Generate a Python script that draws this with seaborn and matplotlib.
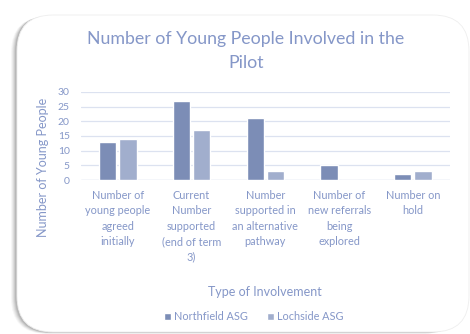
import matplotlib
matplotlib.use("Agg")
import matplotlib.pyplot as plt
from matplotlib.patches import FancyBboxPatch
import seaborn as sns
import pandas as pd

categories = [
    "Number of\nyoung people\nagreed\ninitially",
    "Current\nNumber\nsupported\n(end of term\n3)",
    "Number\nsupported in\nan alternative\npathway",
    "Number of\nnew referrals\nbeing\nexplored",
    "Number on\nhold",
]
northfield = [13, 27, 21, 5, 2]
lochside = [14, 17, 3, 0, 3]
series_names = ["Northfield ASG", "Lochside ASG"]
y_ticks = [0, 5, 10, 15, 20, 25, 30]

df = pd.DataFrame({
    "Type of Involvement": categories * 2,
    "Count": northfield + lochside,
    "School group": [series_names[0]] * len(categories) + [series_names[1]] * len(categories),
})

sns.set_theme(style="white")
plt.rcParams["font.family"] = ["Lato", "DejaVu Sans"]

text_col = "#8597C8"
grid_col = "#DCE2F0"
palette = ["#7389BF", "#9AABD4"]

fig = plt.figure(figsize=(4.7, 3.34), dpi=100)
fig.patch.set_facecolor("white")

# card background with a soft shadow on the left
bg = fig.add_axes([0, 0, 1, 1], zorder=0)
bg.set_xlim(0, 470)
bg.set_ylim(334, 0)
bg.axis("off")
for i, a in enumerate([0.05, 0.07, 0.09, 0.12, 0.16]):
    off = 6 - i
    bg.add_patch(FancyBboxPatch((17 - off, 15 + off * 0.3), 449, 317,
                                boxstyle="round,pad=0,rounding_size=36",
                                fc="#555555", ec="none", alpha=a))
bg.add_patch(FancyBboxPatch((17, 15), 452, 317,
                            boxstyle="round,pad=0,rounding_size=36",
                            fc="white", ec="#EEEEEE", lw=0.6))

ax = fig.add_axes([0.172, 0.461, 0.785, 0.264], zorder=1)
ax.patch.set_alpha(0)
sns.barplot(data=df, x="Type of Involvement", y="Count", hue="School group",
            palette=palette, width=0.55, gap=0.15, ax=ax, legend=True)

ax.set_ylim(0, 30)
ax.set_yticks(y_ticks)
ax.set_xlim(-0.5, len(categories) - 0.5)
ax.yaxis.grid(True, color=grid_col, lw=0.9)
ax.set_axisbelow(True)
for s in ax.spines.values():
    s.set_visible(False)
ax.axhline(0, color=grid_col, lw=1.0, zorder=0)
ax.tick_params(axis="y", length=0, colors=text_col, labelsize=7.5, pad=8)
ax.tick_params(axis="x", length=0, colors=text_col, labelsize=7.8, pad=7)
for lbl in ax.get_xticklabels():
    lbl.set_linespacing(1.5)
    lbl.set_color(text_col)
ax.set_xlabel("Type of Involvement", color=text_col, fontsize=9, labelpad=17)
ax.set_ylabel("")

fig.text(0.092, 0.50, "Number of Young People", rotation=90,
         ha="center", va="center", color=text_col, fontsize=9)

fig.text(0.523, 0.848, "Number of Young People Involved in the\nPilot",
         ha="center", va="center", color=text_col, fontsize=12.8, linespacing=1.6)

handles, labels = ax.get_legend_handles_labels()
ax.legend_.remove()
fig.legend(handles, labels, loc="center", bbox_to_anchor=(0.54, 0.052), ncol=2,
           frameon=False, fontsize=7.8, labelcolor=text_col, handlelength=0.6,
           handleheight=0.6, handletextpad=0.3, columnspacing=1.8)

fig.savefig("out.png", dpi=100)
